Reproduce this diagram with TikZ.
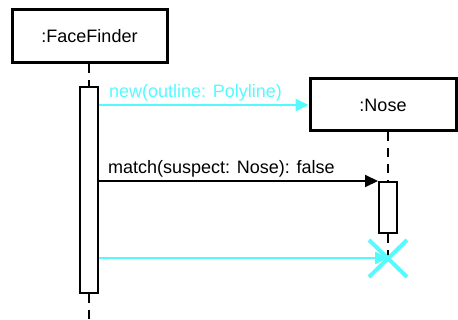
\documentclass[tikz,border=0pt]{standalone}
\usepackage{fontspec}
\setmainfont{Liberation Sans}
\usetikzlibrary{arrows.meta}
\definecolor{msgcyan}{RGB}{85,250,255}
\tikzset{
  objbox/.style={draw=black, line width=3pt, fill=white, inner sep=0pt, font=\fontsize{18}{21}\selectfont},
  actbox/.style={draw=black, line width=2pt, fill=white, inner sep=0pt, minimum width=18pt},
  lifeline/.style={draw=black, line width=2pt, dash pattern=on 9pt off 7pt},
  msg/.style={line width=2pt, -{Triangle[length=13pt,width=12pt]}},
  lbl/.style={font=\fontsize{18}{21}\selectfont, inner sep=0pt, anchor=base west},
}
\begin{document}
\begin{tikzpicture}[x=1pt,y=-1pt]
\useasboundingbox (0,0) rectangle (458,320);
% object boxes
\node[objbox, minimum width=155pt, minimum height=53pt] (ff) at (89.5,36.5) {:FaceFinder};
\node[objbox, minimum width=146pt, minimum height=52pt] (nose) at (383,105) {:Nose};
% lifelines
\coordinate (ffend) at (89,320);
\coordinate (cross) at (388,258);
% activation boxes
\node[actbox, minimum height=206pt] (ffact) at (89,190) {};
\node[actbox, minimum height=51pt] (noseact) at (388,207.5) {};
\draw[lifeline] (ff.south -| ffact.north) -- (ffact.north);
\draw[lifeline] (ffact.south) -- (ffend);
\draw[lifeline] (nose.south -| noseact.north) -- (noseact.north);
\draw[lifeline] (noseact.south) -- (cross);
% messages
\coordinate (m1s) at (ffact.east |- 0,105);
\draw[msg, draw=msgcyan, fill=msgcyan, line width=2.5pt] (m1s) -- (nose.west |- m1s);
\node[lbl, text=msgcyan] (l1) at (109,98) {new(outline: Polyline)};
\coordinate (m2s) at (ffact.east |- noseact.north);
\draw[msg] (m2s) -- (noseact.north west);
\node[lbl] (l2) at (108,174) {match(suspect: Nose): false};
\coordinate (m3s) at (ffact.east |- cross);
\draw[msg, draw=msgcyan, fill=msgcyan, line width=2.5pt] (m3s) -- (cross);
% destruction cross
\draw[msgcyan, line width=4pt] (369,240) -- (407,277) (369,277) -- (407,240);
\end{tikzpicture}
\end{document}
